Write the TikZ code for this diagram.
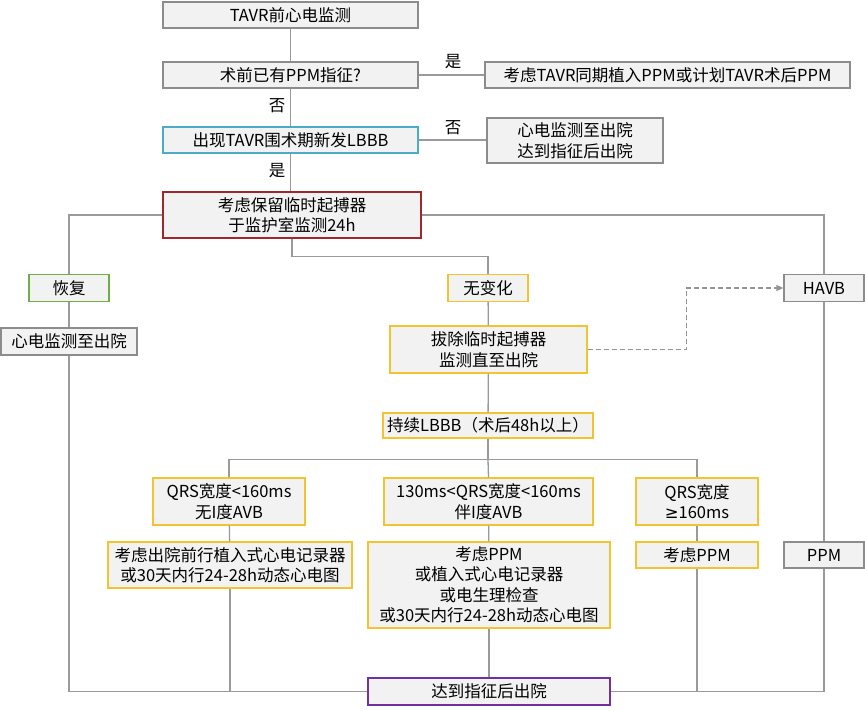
\documentclass[tikz,border=0pt]{standalone}
\usepackage{fontspec}
\setmainfont{Noto Sans CJK SC}
\newfontfamily\symfont{DejaVu Sans}
\usetikzlibrary{arrows.meta,calc}
\definecolor{boxfill}{HTML}{F2F2F2}
\definecolor{bgray}{HTML}{8C8C8C}
\definecolor{lgray}{HTML}{9A9A9A}
\definecolor{byellow}{HTML}{F4C430}
\definecolor{bcyan}{HTML}{4BACC6}
\definecolor{bred}{HTML}{A0282D}
\definecolor{bgreen}{HTML}{70AD47}
\definecolor{bpurple}{HTML}{7030A0}
\begin{document}
\begin{tikzpicture}[x=1pt,y=-1pt,
  box/.style={draw=bgray, fill=boxfill, line width=1.3pt, align=center, inner sep=0pt,
    font=\fontsize{16.5}{20.5}\selectfont},
  ybox/.style={box, draw=byellow},
  conn/.style={draw=lgray, line width=1.3pt},
  lab/.style={font=\fontsize{16.5}{18}\selectfont, inner sep=0pt}]
\useasboundingbox (0,0) rectangle (865,711);
% boxes
\node[box, minimum width=255, minimum height=26] (b1) at (290.5,15) {TAVR前心电监测};
\node[box, minimum width=255, minimum height=26] (b2) at (290.5,75) {术前已有PPM指征?};
\node[box, minimum width=365, minimum height=26] (b4) at (667.5,75) {考虑TAVR同期植入PPM或计划TAVR术后PPM};
\node[box, draw=bcyan, minimum width=255, minimum height=26] (b3) at (290.5,140) {出现TAVR围术期新发LBBB};
\node[box, minimum width=176, minimum height=45] (b5) at (575,140.5) {心电监测至出院\\达到指征后出院};
\node[box, draw=bred, minimum width=258, minimum height=46] (b10) at (292,215) {考虑保留临时起搏器\\于监护室监测24h};
\node[box, draw=bgreen, minimum width=80, minimum height=27] (rec) at (69,288) {恢复};
\node[box, minimum width=136, minimum height=27] (ecg1) at (69,341.5) {心电监测至出院};
\node[ybox, minimum width=80, minimum height=27] (nochg) at (488,288) {无变化};
\node[box, minimum width=80, minimum height=27] (havb) at (824,288) {HAVB};
\node[ybox, minimum width=197, minimum height=47] (pull) at (488.5,349.5) {拔除临时起搏器\\监测直至出院};
\node[ybox, minimum width=210, minimum height=25] (lbbb) at (488,425.5) {持续LBBB（术后48h以上）};
\node[ybox, minimum width=152, minimum height=47] (q1) at (229,501.5) {QRS宽度<160ms\\无I度AVB};
\node[ybox, minimum width=209, minimum height=47] (q2) at (488.5,501.5) {130ms<QRS宽度<160ms\\伴I度AVB};
\node[ybox, minimum width=122, minimum height=47] (q3) at (697,501.5) {QRS宽度\\{\symfont ≥}160ms};
\node[ybox, minimum width=244, minimum height=46] (a1) at (230,565) {考虑出院前行植入式心电记录器\\或30天内行24-28h动态心电图};
\node[ybox, minimum width=242, minimum height=86] (a2) at (489,585) {考虑PPM\\或植入式心电记录器\\或电生理检查\\或30天内行24-28h动态心电图};
\node[ybox, minimum width=122, minimum height=26] (a3) at (697,555) {考虑PPM};
\node[box, minimum width=80, minimum height=26] (ppm) at (824,555) {PPM};
\node[box, draw=bpurple, minimum width=242, minimum height=27] (fin) at (489,691.5) {达到指征后出院};
% labels
\node[lab] (y1) at (453,62) {是};
\node[lab] (n1) at (277,106) {否};
\node[lab] (n2) at (453,128) {否};
\node[lab] (y2) at (277,171) {是};
% connectors
\draw[conn] (b1) -- (b2);
\draw[conn] (b2) -- (b3);
\draw[conn] (b2.east) -- (b4.west);
\draw[conn] (b3.east) -- (b3.east -| b5.west);
\draw[conn] (b3.south) -- (b3.south |- b10.north);
\draw[conn] (b10.west) -| (rec.north);
\draw[conn] (b10.east) -| (havb.north);
\draw[conn] (b10.south) -- ++(0,18) -| (nochg.north);
\draw[conn] (rec) -- (ecg1);
\draw[conn] (nochg) -- (pull);
\draw[conn] (pull) -- (lbbb);
\draw[conn] (lbbb.south) -- ++(0,21) coordinate (split);
\draw[conn] (split) -| (q1.north);
\draw[conn] (split) -| (q3.north);
\draw[conn] (split) -- (q2.north);
\draw[conn] (q1) -- (a1);
\draw[conn] (q2) -- (a2);
\draw[conn] (q3) -- (a3);
\draw[conn] (havb) -- (ppm);
\draw[conn] (ecg1.south) |- (fin.west);
\draw[conn] (a1.south) -- (a1.south |- fin.west);
\draw[conn] (a2) -- (fin);
\draw[conn] (ppm.south) |- (fin.east);
\draw[conn] (a3.south) -- (a3.south |- fin.east);
\draw[conn, draw=gray!85, dash pattern=on 5pt off 3pt, -{Triangle[length=7pt,width=6pt,fill=gray!85]}] (pull.east) -- ++(99,0) |- (havb.west);
\end{tikzpicture}
\end{document}
